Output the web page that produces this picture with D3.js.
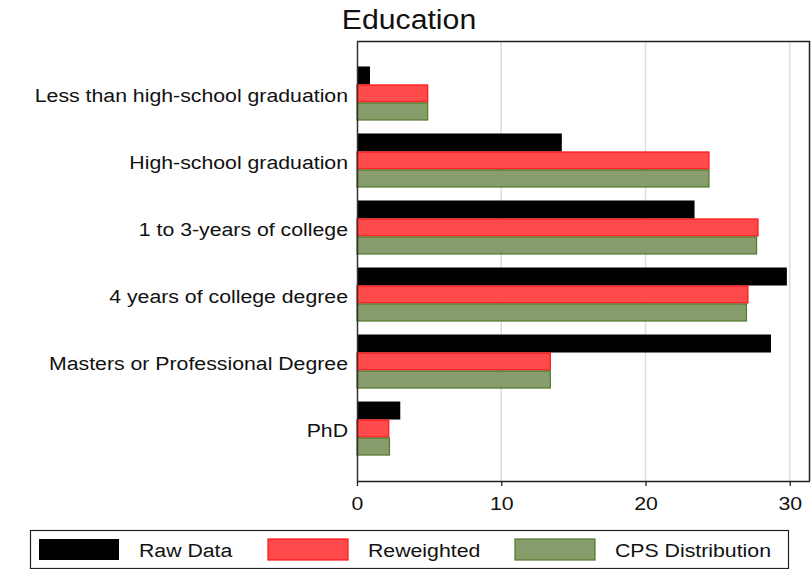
<!DOCTYPE html>
<html>
<head>
<meta charset="utf-8">
<script src="https://cdn.jsdelivr.net/npm/d3@7"></script>
<style>
  body { margin: 0; background: #fff; }
  text { font-family: "Liberation Sans", Arial, sans-serif; }
</style>
</head>
<body>
<div id="chart"></div>
<script>
// Data (percent)
const categories = [
    "Less than high-school graduation",
    "High-school graduation",
    "1 to 3-years of college",
    "4 years of college degree",
    "Masters or Professional Degree",
    "PhD"
];
const seriesNames = ["Raw Data", "Reweighted", "CPS Distribution"];
const rawData = [0.9, 14.2, 23.4, 29.8, 28.7, 3.0];
const reweighted = [4.9, 24.4, 27.8, 27.1, 13.4, 2.2];
const cpsDistribution = [4.9, 24.4, 27.7, 27.0, 13.4, 2.25];
const xTicks = [0, 10, 20, 30];

const width = 811;
const height = 569;
const margin = { top: 41, right: 1, bottom: 88, left: 357 };
const textStretch = 1.12; // reference text is a bit wider than Arial

const fills = ["#000000", "#ff4b4b", "#889d6c"];
const strokes = ["none", "#ff1010", "#52782c"];

const series = [rawData, reweighted, cpsDistribution];
const rows = categories.map((c, i) => ({ cat: c, vals: series.map(s => s[i]) }));

// widen text horizontally around its anchor x
function stretch(sel) {
    sel.attr("transform", function() {
        const tx = +this.getAttribute("x") || 0;
        return `translate(${tx},0) scale(${textStretch},1) translate(${-tx},0)`;
    });
}

const svg = d3.select("#chart").append("svg")
    .attr("width", width)
    .attr("height", height);

const x = d3.scaleLinear()
    .domain([0, 31.37])
    .range([margin.left, width - margin.right - 0.5]);

const y = d3.scaleBand()
    .domain(categories)
    .range([margin.top, height - margin.bottom])
    .paddingInner(13 / 67)
    .paddingOuter(0.38);

const sub = d3.scaleBand()
    .domain(d3.range(series.length))
    .range([0, y.bandwidth()]);

// gridlines
svg.append("g")
    .selectAll("line")
    .data(xTicks.filter(t => t > 0))
    .join("line")
    .attr("x1", d => x(d)).attr("x2", d => x(d))
    .attr("y1", margin.top).attr("y2", height - margin.bottom)
    .attr("stroke", "#dcdcdc")
    .attr("stroke-width", 1.5);

// plot frame (top and right)
svg.append("path")
    .attr("d", `M${margin.left},${margin.top + 0.5}H${width - margin.right - 0.5}V${height - margin.bottom}`)
    .attr("fill", "none")
    .attr("stroke", "#222")
    .attr("stroke-width", 1.5);

// bars
const groups = svg.append("g")
    .selectAll("g")
    .data(rows)
    .join("g")
    .attr("transform", d => `translate(0,${y(d.cat)})`);

groups.selectAll("rect")
    .data(d => d.vals.map((v, k) => ({ v, k })))
    .join("rect")
    .attr("x", x(0))
    .attr("y", d => sub(d.k) + (d.k > 0 ? 0.5 : 0))
    .attr("width", d => x(d.v) - x(0))
    .attr("height", d => sub.bandwidth() - (d.k > 0 ? 1 : 0))
    .attr("fill", d => fills[d.k])
    .attr("stroke", d => strokes[d.k])
    .attr("stroke-width", 1.2);

// x axis
svg.append("g")
    .attr("transform", `translate(0,${height - margin.bottom})`)
    .call(d3.axisBottom(x).tickValues(xTicks).tickSize(5).tickSizeOuter(0).tickPadding(11))
    .call(g => g.select(".domain").attr("stroke", "#222").attr("stroke-width", 1.5))
    .call(g => g.selectAll(".tick line").attr("stroke", "#222").attr("stroke-width", 1.3))
    .call(g => g.selectAll(".tick text").attr("font-size", 19).attr("fill", "#111")
        .attr("font-family", "Liberation Sans, Arial, sans-serif").call(stretch));

// y axis
svg.append("g")
    .attr("transform", `translate(${margin.left},0)`)
    .call(d3.axisLeft(y).tickSize(0).tickPadding(9))
    .call(g => g.select(".domain").attr("stroke", "#333").attr("stroke-width", 1.5))
    .call(g => g.selectAll(".tick text").attr("font-size", 19).attr("fill", "#111")
        .attr("dy", "0.46em")
        .attr("font-family", "Liberation Sans, Arial, sans-serif").call(stretch));

// title
svg.append("text")
    .attr("x", 409)
    .attr("y", 29)
    .attr("text-anchor", "middle")
    .attr("font-size", 27)
    .attr("fill", "#111")
    .text("Education")
    .call(stretch);

// legend
const legend = svg.append("g").attr("transform", "translate(30,530)");
legend.append("rect")
    .attr("x", 0.5).attr("y", 0.5)
    .attr("width", 758).attr("height", 38)
    .attr("fill", "#fff")
    .attr("stroke", "#222")
    .attr("stroke-width", 1.2);

const legendX = [9, 238, 485];
const items = legend.selectAll("g.item")
    .data(seriesNames)
    .join("g")
    .attr("class", "item")
    .attr("transform", (d, i) => `translate(${legendX[i]},9)`);

items.append("rect")
    .attr("width", 80).attr("height", 21)
    .attr("fill", (d, i) => fills[i])
    .attr("stroke", (d, i) => strokes[i])
    .attr("stroke-width", 1.2);

items.append("text")
    .attr("x", 100)
    .attr("y", 18)
    .attr("font-size", 19)
    .attr("fill", "#111")
    .text(d => d)
    .call(stretch);
</script>
</body>
</html>
